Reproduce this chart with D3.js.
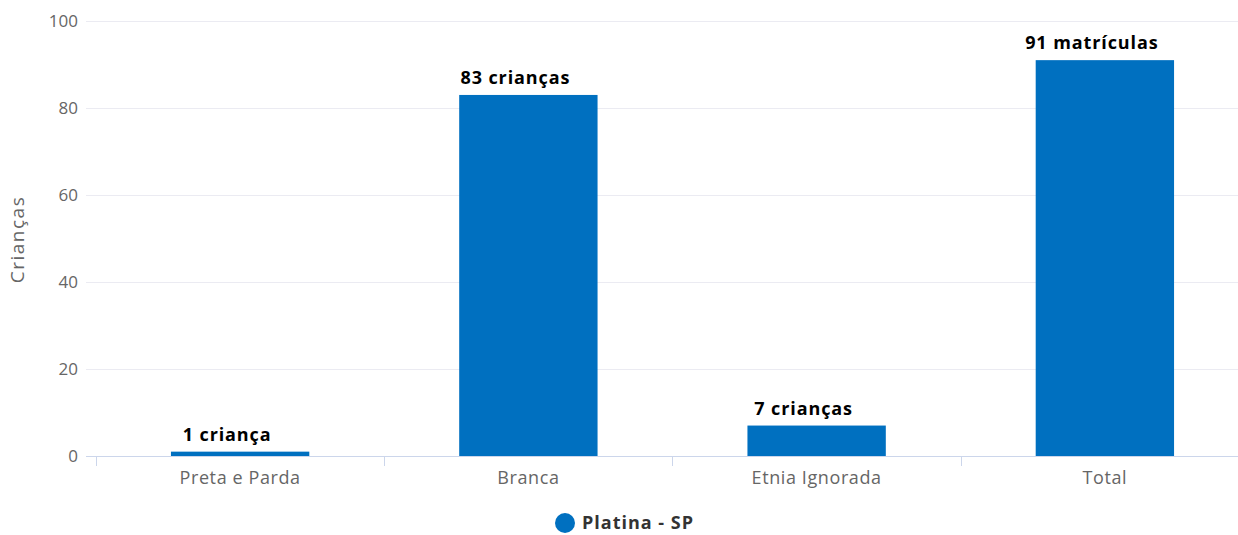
<!DOCTYPE html>
<html>
<head>
<meta charset="utf-8">
<script src="https://cdn.jsdelivr.net/npm/d3@7"></script>
<style>
  body { margin: 0; background: #fff; }
  svg { display: block; font-family: "Open Sans", sans-serif; }
</style>
</head>
<body>
<svg id="chart"></svg>
<script>
const categories = ["Preta e Parda", "Branca", "Etnia Ignorada", "Total"];
const values = [1, 83, 7, 91];
const labels = ["1 criança", "83 crianças", "7 crianças", "91 matrículas"];
const yTicks = [0, 20, 40, 60, 80, 100];
const seriesName = "Platina - SP";

const width = 1238;
const height = 535;
const margin = { top: 21, right: -11, bottom: 79, left: 96 };
const blue = "#0070c0";

const svg = d3.select("#chart")
  .attr("width", width)
  .attr("height", height);

const x = d3.scaleBand()
  .domain(categories)
  .range([margin.left, width - margin.right])
  .paddingInner(0.52)
  .paddingOuter(0.26);

const y = d3.scaleLinear()
  .domain([0, 100])
  .range([height - margin.bottom, margin.top]);

// grid
svg.append("g")
  .selectAll("line")
  .data(yTicks)
  .enter().append("line")
  .attr("x1", 86)
  .attr("x2", width)
  .attr("y1", d => y(d) + 0.5)
  .attr("y2", d => y(d) + 0.5)
  .attr("stroke", "#ebebf2")
  .attr("stroke-width", 1);

// y tick labels
svg.append("g")
  .selectAll("text")
  .data(yTicks)
  .enter().append("text")
  .attr("x", 78)
  .attr("y", d => y(d))
  .attr("dy", "0.35em")
  .attr("text-anchor", "end")
  .attr("fill", "#666")
  .attr("font-size", 17)
  .text(d => d);

// y title
svg.append("text")
  .attr("transform", `translate(24, ${y(50) + 1}) rotate(-90)`)
  .attr("text-anchor", "middle")
  .attr("fill", "#666")
  .attr("font-size", 19)
  .attr("letter-spacing", 1.5)
  .text("Crianças");

// bars
svg.append("g")
  .selectAll("rect")
  .data(values)
  .enter().append("rect")
  .attr("x", (d, i) => x(categories[i]))
  .attr("width", x.bandwidth())
  .attr("y", d => y(d))
  .attr("height", d => y(0) - y(d))
  .attr("fill", blue);

// x axis line
svg.append("line")
  .attr("x1", 86)
  .attr("x2", width)
  .attr("y1", y(0) + 0.5)
  .attr("y2", y(0) + 0.5)
  .attr("stroke", "#ccd6eb");

// x ticks at category boundaries
const step = x.step();
const bounds = categories.map((c, i) => x(c) + x.bandwidth() / 2 - step / 2);
svg.append("g")
  .selectAll("line")
  .data(bounds)
  .enter().append("line")
  .attr("x1", d => Math.round(d) + 0.5)
  .attr("x2", d => Math.round(d) + 0.5)
  .attr("y1", y(0))
  .attr("y2", y(0) + 10)
  .attr("stroke", "#ccd6eb");

// x labels
svg.append("g")
  .selectAll("text")
  .data(categories)
  .enter().append("text")
  .attr("x", d => x(d) + x.bandwidth() / 2)
  .attr("y", y(0) + 28)
  .attr("text-anchor", "middle")
  .attr("fill", "#666")
  .attr("font-size", 18)
  .attr("letter-spacing", 0.6)
  .text(d => d);

// data labels (shifted slightly left like the original)
svg.append("g")
  .selectAll("text")
  .data(values)
  .enter().append("text")
  .attr("x", (d, i) => x(categories[i]) + x.bandwidth() / 2 - 13)
  .attr("y", d => y(d) - 11)
  .attr("text-anchor", "middle")
  .attr("fill", "#000")
  .attr("font-size", 18)
  .attr("font-weight", "bold")
  .attr("letter-spacing", 0.9)
  .text((d, i) => labels[i]);

// legend
const legend = svg.append("g")
  .attr("transform", "translate(565, 523)");
legend.append("circle")
  .attr("r", 10)
  .attr("fill", blue);
legend.append("text")
  .attr("x", 17)
  .attr("dy", "0.35em")
  .attr("fill", "#333")
  .attr("font-size", 18)
  .attr("font-weight", "bold")
  .attr("letter-spacing", 1)
  .text(seriesName);
</script>
</body>
</html>
